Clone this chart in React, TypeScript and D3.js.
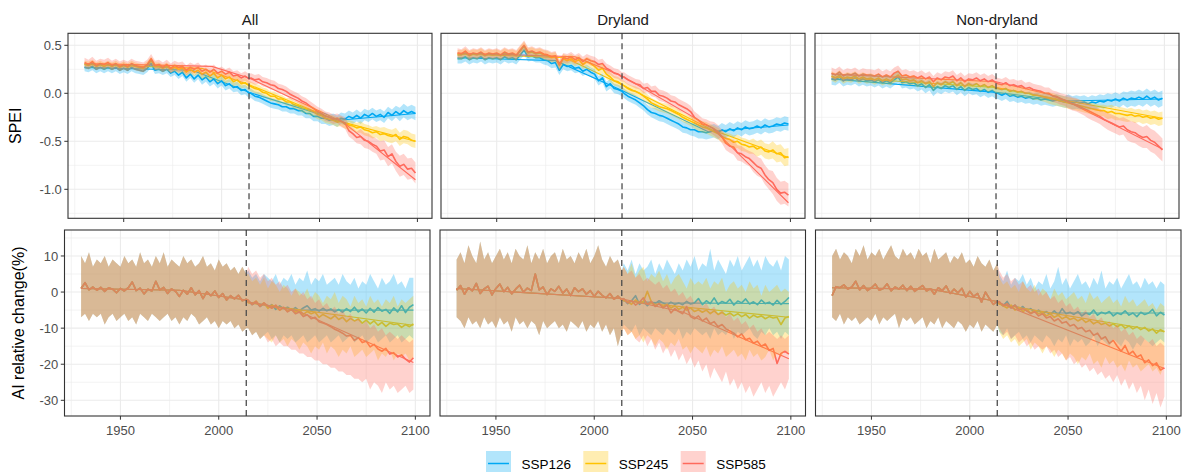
import React from 'react';
import * as d3 from 'd3';

// time axes: historical every 2 years, scenario runs every 2 years
const histYears = d3.range(1930, 2015, 2);
const futYears = d3.range(2015, 2100, 2);

const scenarios = ['SSP126', 'SSP245', 'SSP585'];
const colors = ['#00A8F3', '#FFC300', '#FF6A5C'];
const regions = ['All', 'Dryland', 'Non-dryland'];

const speiTicks = [0.5, 0, -0.5, -1];
const speiMinor = [0.25, -0.25, -0.75, -1.25];
const aiTicks = [10, 0, -10, -20, -30];
const aiMinor = [15, 5, -5, -15, -25];
const yearTicks = [1950, 2000, 2050, 2100];
const yearMinor = [1925, 1975, 2025, 2075];
const baseYear = 2014;

// ---------------- SPEI (top row) ----------------
// All
const speiHistAll126 = [
  .27, .26, .28, .25, .27, .25, .27, .25, .27, .24,
  .26, .24, .27, .25, .24, .23, .26, .31, .24, .25,
  .23, .25, .21, .23, .19, .22, .16, .20, .15, .19,
  .14, .17, .12, .15, .10, .13, .08, .10, .06, .07,
  .03, .04, .00];
const speiHistAll245 = [
  .30, .29, .31, .28, .30, .28, .30, .28, .30, .27,
  .29, .27, .30, .28, .27, .26, .29, .34, .28, .28,
  .26, .28, .25, .27, .25, .26, .22, .25, .22, .24,
  .20, .22, .18, .21, .16, .19, .15, .17, .12, .14,
  .10, .11, .08];
const speiHistAll585 = [
  .32, .30, .33, .29, .31, .30, .32, .29, .31, .28,
  .30, .28, .31, .29, .28, .27, .30, .36, .29, .30,
  .27, .30, .26, .29, .27, .28, .24, .27, .25, .27,
  .23, .25, .22, .25, .21, .23, .20, .22, .18, .19,
  .16, .18, .15];
const speiFutAll126 = [
  .00, -.03, -.04, -.06, -.08, -.10, -.11, -.12, -.14, -.14,
  -.16, -.16, -.18, -.18, -.21, -.21, -.24, -.24, -.26, -.26,
  -.28, -.27, -.29, -.26, -.27, -.24, -.26, -.23, -.26, -.22,
  -.24, -.21, -.24, -.22, -.25, -.20, -.23, -.19, -.22, -.18,
  -.21, -.19, -.21];
const speiFutAll245 = [
  .07, .05, .04, .01, .00, -.03, -.03, -.06, -.06, -.09,
  -.09, -.12, -.13, -.15, -.16, -.18, -.19, -.22, -.23, -.26,
  -.27, -.28, -.30, -.29, -.32, -.33, -.34, -.36, -.35, -.38,
  -.39, -.41, -.40, -.43, -.42, -.44, -.45, -.43, -.48, -.45,
  -.46, -.49, -.50];
const speiFutAll585 = [
  .16, .14, .15, .12, .11, .09, .08, .05, .04, .02,
  -.01, -.03, -.05, -.08, -.10, -.13, -.16, -.19, -.21, -.24,
  -.25, -.27, -.26, -.29, -.31, -.39, -.42, -.46, -.45, -.49,
  -.50, -.53, -.55, -.60, -.59, -.66, -.63, -.71, -.76, -.74,
  -.79, -.78, -.83];
// Dryland
const speiHistDry126 = [
  .36, .36, .38, .35, .37, .36, .38, .35, .37, .36,
  .37, .35, .38, .36, .37, .35, .40, .45, .38, .39,
  .37, .37, .35, .34, .31, .32, .24, .30, .28, .29,
  .26, .27, .23, .25, .22, .20, .13, .16, .07, .10,
  .05, .04, .02];
const speiHistDry245 = [
  .40, .40, .42, .39, .41, .40, .42, .39, .41, .40,
  .41, .39, .42, .40, .41, .39, .44, .49, .42, .43,
  .41, .42, .40, .39, .37, .38, .29, .36, .34, .36,
  .33, .35, .30, .33, .31, .28, .24, .26, .20, .17,
  .13, .12, .09];
const speiHistDry585 = [
  .42, .41, .44, .40, .42, .41, .43, .40, .42, .41,
  .42, .40, .43, .41, .42, .40, .45, .50, .43, .44,
  .42, .43, .41, .40, .38, .39, .30, .37, .36, .38,
  .35, .37, .33, .36, .34, .33, .30, .31, .26, .24,
  .21, .20, .17];
const speiFutDry126 = [
  .00, -.03, -.05, -.07, -.10, -.13, -.17, -.20, -.21, -.23,
  -.24, -.26, -.28, -.30, -.32, -.35, -.36, -.38, -.38, -.40,
  -.40, -.41, -.40, -.39, -.41, -.38, -.40, -.37, -.39, -.36,
  -.38, -.35, -.37, -.36, -.34, -.36, -.33, -.35, -.34, -.32,
  -.33, -.31, -.32];
const speiFutDry245 = [
  .08, .05, .03, .02, .00, -.03, -.06, -.10, -.12, -.14,
  -.15, -.16, -.18, -.20, -.22, -.25, -.27, -.29, -.31, -.33,
  -.35, -.36, -.38, -.40, -.42, -.45, -.47, -.48, -.51, -.50,
  -.53, -.54, -.56, -.55, -.58, -.56, -.60, -.61, -.59, -.63,
  -.62, -.67, -.66];
const speiFutDry585 = [
  .17, .14, .12, .10, .09, .05, .06, .02, .02, -.02,
  -.03, -.05, -.08, -.09, -.12, -.14, -.16, -.19, -.25, -.28,
  -.32, -.33, -.35, -.37, -.40, -.45, -.52, -.55, -.56, -.62,
  -.63, -.66, -.68, -.72, -.76, -.78, -.85, -.90, -.93, -1.00,
  -1.04, -1.03, -1.06];
// Non-dryland
const speiHistNon126 = [
  .15, .14, .17, .13, .15, .14, .16, .13, .15, .13,
  .14, .12, .14, .11, .13, .11, .14, .17, .11, .12,
  .10, .11, .08, .10, .06, .09, .03, .07, .05, .08,
  .06, .08, .04, .07, .03, .06, .04, .05, .02, .04,
  .01, .03, .00];
const speiHistNon245 = [
  .18, .16, .19, .15, .17, .16, .18, .15, .17, .15,
  .16, .14, .16, .13, .15, .13, .16, .19, .14, .15,
  .13, .14, .11, .13, .10, .12, .07, .11, .09, .12,
  .10, .12, .08, .11, .07, .10, .08, .10, .07, .09,
  .06, .08, .05];
const speiHistNon585 = [
  .21, .19, .22, .18, .20, .19, .21, .18, .20, .19,
  .19, .18, .20, .17, .19, .17, .21, .23, .18, .19,
  .17, .18, .16, .18, .15, .17, .12, .16, .14, .17,
  .16, .18, .13, .16, .12, .15, .14, .16, .13, .15,
  .12, .14, .11];
const speiFutNon126 = [
  .00, -.02, .00, -.03, -.02, -.04, -.03, -.05, -.04, -.06,
  -.05, -.07, -.06, -.07, -.08, -.07, -.08, -.09, -.08, -.10,
  -.09, -.10, -.09, -.11, -.09, -.10, -.08, -.09, -.07, -.08,
  -.06, -.08, -.05, -.07, -.05, -.06, -.04, -.06, -.03, -.06,
  -.04, -.07, -.05];
const speiFutNon245 = [
  .05, .04, .05, .02, .03, .01, .02, .00, .00, -.02,
  -.02, -.03, -.04, -.05, -.06, -.07, -.08, -.09, -.10, -.11,
  -.12, -.13, -.14, -.15, -.16, -.17, -.18, -.18, -.20, -.19,
  -.21, -.21, -.22, -.23, -.22, -.24, -.23, -.25, -.24, -.26,
  -.25, -.27, -.26];
const speiFutNon585 = [
  .10, .09, .11, .08, .09, .07, .08, .05, .06, .04,
  .03, .02, .00, .00, -.03, -.04, -.06, -.07, -.09, -.11,
  -.12, -.14, -.16, -.18, -.20, -.22, -.24, -.27, -.29, -.31,
  -.33, -.35, -.34, -.38, -.40, -.41, -.44, -.46, -.45, -.49,
  -.51, -.55, -.59];

// ensemble spread (half width) per decade, 1930s..2090s
const speiSpreadAll = [
  [.04, .04, .04, .04, .04, .04, .05, .05, .05, .05, .05, .05, .06, .06, .06, .06, .07],
  [.04, .04, .04, .04, .04, .04, .05, .05, .05, .05, .04, .05, .05, .05, .06, .07, .07],
  [.05, .05, .05, .05, .05, .05, .05, .05, .05, .05, .05, .05, .05, .06, .08, .10, .11]];
const speiSpreadDry = [
  [.05, .05, .05, .05, .05, .05, .05, .05, .05, .05, .06, .06, .07, .07, .07, .07, .07],
  [.05, .05, .05, .05, .05, .05, .05, .05, .05, .05, .05, .05, .06, .06, .07, .08, .09],
  [.05, .05, .05, .05, .05, .05, .05, .05, .05, .05, .06, .06, .06, .07, .08, .10, .12]];
const speiSpreadNon = [
  [.06, .06, .06, .06, .06, .06, .06, .06, .06, .06, .06, .06, .07, .07, .07, .08, .08],
  [.05, .05, .05, .05, .05, .05, .05, .05, .05, .05, .05, .06, .06, .06, .07, .07, .07],
  [.06, .06, .06, .06, .06, .06, .06, .06, .06, .06, .06, .06, .07, .08, .09, .11, .12]];

// fitted trends: [year, value] knots
const speiTrendAll = [
  [[1930, .27], [1985, .24], [2014, .01], [2060, -.28], [2099, -.21]],
  [[1930, .30], [1990, .26], [2014, .09], [2060, -.29], [2099, -.50]],
  [[1930, .31], [1995, .28], [2014, .16], [2062, -.30], [2099, -.90]]];
const speiTrendDry = [
  [[1930, .37], [1980, .34], [2014, .03], [2058, -.40], [2099, -.33]],
  [[1930, .41], [1985, .37], [2014, .09], [2060, -.38], [2099, -.67]],
  [[1930, .42], [1990, .38], [2014, .18], [2060, -.36], [2099, -1.14]]];
const speiTrendNon = [
  [[1930, .15], [2014, .01], [2050, -.08], [2099, -.06]],
  [[1930, .17], [2014, .06], [2099, -.26]],
  [[1930, .20], [2014, .12], [2045, -.03], [2099, -.58]]];

// ---------------- AI relative change, % (bottom row) ----------------
// All
const aiHistMeanAll = [
  1.0, 2.6, 0.6, 1.4, 0.5, 1.3, 0.2, 1.2, 0.8, -0.2,
  1.0, 0.3, 1.2, 2.8, 0.4, 1.1, -0.5, 0.8, 0.3, 3.0,
  0.6, 1.3, -0.4, 0.9, 0.2, -1.2, 0.5, -0.6, 1.2, -0.8,
  0.4, -1.8, 0.1, -1.0, 0.3, -1.5, -0.4, -2.2, -1.0, -1.9,
  -0.9, -2.4, -2.0];
const aiHistHiAll = [
  10, 8, 11, 7, 9, 8, 10, 7, 9, 8,
  7, 10, 8, 9, 7, 11, 8, 9, 7, 10,
  8, 11, 7, 9, 8, 7, 10, 8, 9, 7,
  8, 10, 7, 8, 6, 9, 7, 8, 6, 7,
  5, 7, 5];
const aiHistLoAll = [
  -7, -6, -8, -6, -7, -6, -9, -7, -6, -8,
  -7, -6, -8, -7, -9, -6, -7, -8, -6, -7,
  -8, -7, -6, -8, -7, -9, -7, -8, -6, -7,
  -9, -8, -7, -9, -8, -10, -8, -9, -8, -10,
  -9, -11, -10];
const aiFutAll126 = [
  -2.5, -3.5, -2.8, -4.0, -3.2, -4.2, -3.5, -4.8, -3.8, -4.6,
  -4.2, -5.0, -4.3, -5.2, -4.4, -3.8, -5.0, -4.6, -5.3, -4.5,
  -5.2, -4.7, -5.5, -4.8, -5.6, -4.6, -5.4, -4.2, -5.5, -4.7,
  -5.8, -4.5, -5.6, -4.3, -5.3, -4.8, -5.9, -4.4, -5.5, -3.8,
  -5.7, -4.2, -3.5];
const aiFutHiAll126 = [
  6, 4, 5, 3, 5, 4, 3, 5, 2, 4,
  3, 5, 2, 4, 3, 6, 2, 4, 3, 5,
  2, 3, 4, 2, 5, 3, 2, 4, 1, 3,
  2, 5, 3, 1, 4, 2, 3, 5, 2, 3,
  1, 4, 4];
const aiFutLoAll126 = [
  -10, -12, -11, -13, -12, -11, -13, -12, -14, -12,
  -13, -12, -14, -13, -12, -14, -13, -12, -14, -13,
  -12, -14, -13, -12, -14, -13, -12, -14, -13, -12,
  -14, -13, -12, -14, -13, -12, -14, -13, -12, -14,
  -13, -12, -13];
const aiFutAll245 = [
  -2.8, -3.2, -2.5, -3.8, -3.0, -4.5, -3.6, -4.2, -5.0, -4.4,
  -5.3, -4.8, -5.6, -4.9, -6.2, -5.4, -6.0, -5.6, -7.0, -6.2,
  -6.8, -7.4, -6.5, -7.6, -7.0, -8.2, -7.3, -8.0, -7.5, -8.6,
  -7.8, -8.8, -8.0, -9.2, -8.4, -9.5, -8.6, -9.0, -8.8, -9.8,
  -9.0, -9.6, -8.8];
const aiFutHiAll245 = [
  5, 3, 4, 2, 4, 1, 3, 2, 0, 2,
  1, -1, 1, 0, -1, 1, -2, 0, -1, -3,
  -1, -2, 0, -3, -1, -2, -4, -1, -3, -2,
  -4, -1, -3, -2, -4, -2, -3, -1, -4, -2,
  -3, -2, -1];
const aiFutLoAll245 = [
  -10, -12, -11, -13, -12, -13, -14, -12, -14, -13,
  -15, -13, -14, -16, -14, -15, -17, -15, -16, -14,
  -17, -15, -16, -18, -16, -17, -15, -18, -17, -16,
  -18, -17, -16, -19, -17, -18, -16, -19, -17, -18,
  -17, -19, -18];
const aiFutAll585 = [
  -2.2, -3.5, -2.6, -4.0, -3.0, -3.8, -4.5, -3.6, -5.0, -4.2,
  -5.5, -4.8, -6.0, -5.5, -6.8, -6.3, -7.4, -7.0, -8.2, -8.6,
  -9.0, -9.6, -10.3, -10.8, -11.4, -12.2, -12.0, -13.4, -12.6, -14.0,
  -13.6, -15.2, -14.5, -15.8, -16.4, -15.6, -17.2, -16.8, -18.0, -17.4,
  -18.6, -19.4, -18.2];
const aiFutHiAll585 = [
  7, 5, 6, 4, 5, 3, 4, 2, 3, 1,
  2, 0, 1, -1, 0, -2, -1, -3, -2, -4,
  -3, -5, -4, -6, -5, -7, -6, -8, -7, -9,
  -8, -10, -9, -11, -10, -12, -11, -12, -13, -12,
  -13, -14, -13];
const aiFutLoAll585 = [
  -10, -12, -11, -13, -12, -14, -13, -15, -14, -15,
  -15, -16, -16, -17, -17, -18, -18, -19, -19, -20,
  -20, -21, -21, -22, -22, -23, -23, -24, -24, -25,
  -24, -27, -25, -26, -28, -25, -27, -26, -28, -27,
  -26, -28, -27];
// Dryland
const aiHistMeanDry = [
  0.5, 1.8, -0.6, 1.2, 0.3, 2.4, -0.4, 0.9, 1.6, -0.8,
  1.0, 2.2, 0.1, 1.3, -0.5, 0.8, 1.9, 0.0, 1.1, 0.4,
  5.0, 0.6, 1.4, -0.7, 0.9, 0.2, 1.6, -0.3, 0.8, -1.0,
  1.2, 0.1, 0.9, -0.6, 0.4, -1.2, 0.2, -0.9, -1.6, -0.4,
  -2.0, -1.1, -2.2];
const aiHistHiDry = [
  9, 11, 8, 13, 10, 8, 14, 9, 11, 8,
  10, 12, 9, 11, 8, 12, 10, 9, 13, 8,
  11, 9, 12, 8, 10, 11, 8, 12, 9, 10,
  8, 11, 9, 12, 8, 10, 13, 9, 7, 10,
  8, 9, 6];
const aiHistLoDry = [
  -7, -8, -10, -7, -9, -8, -10, -7, -9, -8,
  -10, -7, -9, -8, -11, -7, -9, -8, -10, -8,
  -9, -12, -8, -10, -9, -8, -10, -9, -11, -8,
  -9, -10, -8, -11, -9, -10, -8, -11, -9, -12,
  -10, -15, -11];
const aiFutDry126 = [
  -2.0, -3.2, -2.4, -1.0, -3.4, -2.6, -3.8, -2.8, -3.2, -2.4,
  -3.0, -3.6, -2.8, -3.4, -3.0, -3.5, -2.6, -3.3, -3.0, -1.8,
  -3.5, -2.4, -3.2, -1.6, -3.4, -2.6, -3.1, -2.0, -3.6, -2.5,
  -3.0, -1.9, -3.3, -2.7, -3.5, -2.2, -3.2, -2.8, -3.6, -2.3,
  -3.4, -2.6, -1.5];
const aiFutHiDry126 = [
  8, 6, 9, 5, 8, 6, 7, 9, 5, 8,
  6, 9, 7, 5, 8, 6, 9, 7, 10, 6,
  8, 7, 12, 6, 9, 7, 5, 9, 7, 10,
  6, 8, 10, 7, 9, 6, 10, 8, 7, 9,
  6, 10, 9];
const aiFutLoDry126 = [
  -9, -10, -11, -9, -12, -10, -11, -12, -10, -11,
  -12, -10, -11, -12, -10, -13, -11, -12, -10, -11,
  -12, -11, -13, -10, -12, -11, -12, -10, -13, -11,
  -12, -11, -10, -12, -13, -11, -12, -10, -12, -11,
  -13, -11, -12];
const aiFutDry245 = [
  -2.0, -2.8, -3.4, -2.2, -3.0, -2.6, 0.2, -2.6, -3.8, -3.2,
  -4.0, -3.4, -4.4, -3.8, -4.8, -4.2, -5.0, -4.4, -5.4, -4.9,
  -5.6, -5.0, -6.0, -5.2, -6.2, -5.6, -6.4, -5.8, -6.6, -6.0,
  -6.8, -6.2, -7.2, -6.4, -7.0, -6.6, -7.4, -6.8, -7.2, -7.0,
  -9.0, -7.2, -6.8];
const aiFutHiDry245 = [
  7, 5, 8, 4, 6, 7, 3, 5, 4, 6,
  3, 5, 2, 4, 5, 3, 1, 4, 2, 3,
  2, 4, 1, 3, 2, 4, 0, 2, 3, 1,
  2, 0, 3, 1, 2, -1, 2, 0, 1, 2,
  0, 1, 0];
const aiFutLoDry245 = [
  -10, -12, -11, -13, -12, -14, -12, -13, -15, -13,
  -14, -16, -14, -15, -13, -16, -15, -17, -15, -16,
  -17, -15, -18, -16, -17, -15, -18, -17, -16, -18,
  -17, -19, -16, -18, -17, -19, -18, -16, -19, -17,
  -18, -16, -17];
const aiFutDry585 = [
  -1.8, -3.0, -2.4, -3.6, -2.8, -1.6, -3.4, -2.6, -4.0, -3.2,
  -4.4, -3.6, -5.8, -4.6, -5.4, -6.0, -4.0, -6.8, -7.4, -6.6,
  -8.0, -7.2, -8.8, -8.2, -9.6, -9.0, -10.2, -10.8, -11.4, -12.4,
  -11.6, -13.2, -12.8, -14.2, -13.6, -15.0, -14.4, -16.2, -15.6, -19.8,
  -17.0, -16.4, -17.2];
const aiFutHiDry585 = [
  7, 5, 6, 4, 5, 3, 4, 3, 2, 3,
  1, 2, 0, 1, -1, 0, -2, -1, -3, -2,
  -4, -3, -5, -4, -6, -5, -7, -6, -8, -7,
  -9, -8, -10, -9, -11, -10, -12, -11, -12, -13,
  -12, -13, -12];
const aiFutLoDry585 = [
  -10, -12, -11, -13, -14, -12, -15, -13, -16, -14,
  -17, -15, -18, -16, -19, -17, -20, -18, -21, -19,
  -22, -20, -24, -21, -23, -25, -22, -26, -24, -27,
  -25, -28, -26, -29, -27, -25, -28, -26, -29, -27,
  -25, -27, -24];
// Non-dryland
const aiHistMeanNon = [
  -1.0, 1.5, 1.2, 2.0, 0.8, 1.4, 3.0, 0.6, 1.8, 0.4,
  1.2, 2.2, 0.5, 1.0, 2.3, 0.3, 1.4, 0.8, 1.9, 0.4,
  1.6, 0.2, 1.0, 1.8, 0.3, 0.9, -0.6, 1.2, 0.4, 1.7,
  -0.4, 0.8, -0.2, 1.0, -1.4, 0.2, -1.2, -0.4, -2.8, 0.0,
  -1.8, -3.4, -2.6];
const aiHistHiNon = [
  10, 12, 9, 11, 10, 8, 12, 10, 13, 9,
  11, 10, 12, 9, 11, 13, 10, 9, 12, 10,
  11, 9, 12, 10, 11, 8, 12, 9, 10, 11,
  8, 10, 9, 11, 8, 9, 7, 10, 8, 7,
  9, 6, 8];
const aiHistLoNon = [
  -7, -8, -6, -9, -7, -8, -7, -9, -8, -7,
  -8, -6, -9, -7, -8, -7, -6, -10, -7, -8,
  -7, -9, -8, -7, -10, -8, -9, -7, -10, -8,
  -9, -10, -8, -9, -11, -9, -10, -8, -11, -9,
  -10, -11, -9];
const aiFutNon126 = [
  -3.0, -3.8, -2.6, -4.4, -3.6, -4.8, -4.0, -5.2, -4.6, -5.6,
  -5.0, -6.0, -5.4, -6.2, -5.2, -6.4, -4.6, -6.0, -5.6, -6.2,
  -5.4, -6.6, -5.8, -6.2, -5.0, -6.4, -5.6, -6.0, -5.4, -6.6,
  -5.8, -6.2, -5.2, -6.4, -5.8, -6.8, -5.6, -6.2, -5.8, -4.8,
  -6.6, -5.6, -6.4];
const aiFutHiNon126 = [
  5, 3, 6, 2, 4, 3, 5, 2, 4, 1,
  3, 2, 5, 1, 3, 7, 2, 4, 1, 3,
  5, 2, 3, 1, 4, 2, 6, 1, 3, 2,
  4, 1, 3, 5, 2, 3, 1, 4, 2, 3,
  1, 3, 2];
const aiFutLoNon126 = [
  -11, -12, -10, -13, -12, -11, -13, -12, -14, -12,
  -13, -14, -12, -13, -15, -13, -14, -12, -15, -13,
  -14, -13, -15, -14, -12, -15, -13, -14, -15, -13,
  -14, -15, -13, -14, -16, -14, -15, -13, -14, -15,
  -14, -13, -14];
const aiFutNon245 = [
  -3.2, -3.8, -4.4, -3.6, -5.0, -4.2, -5.4, -4.8, -5.8, -5.2,
  -6.0, -5.6, -6.6, -6.0, -7.0, -6.4, -7.4, -6.8, -7.6, -7.2,
  -8.0, -7.4, -8.4, -7.8, -8.8, -8.2, -9.0, -8.6, -9.4, -8.8,
  -9.6, -9.0, -10.0, -9.4, -10.2, -9.6, -10.4, -9.8, -10.8, -10.2,
  -11.4, -10.4, -11.0];
const aiFutHiNon245 = [
  4, 2, 3, 1, 2, 0, 3, 1, 0, 2,
  -1, 1, 0, -2, 1, -1, 0, -2, -1, 0,
  -2, -1, -3, 0, -2, -1, -3, -2, -1, -3,
  -2, -4, -1, -3, -2, -4, -3, -2, -4, -3,
  -5, -3, -4];
const aiFutLoNon245 = [
  -11, -13, -12, -14, -13, -15, -14, -13, -16, -14,
  -15, -17, -15, -16, -18, -16, -17, -19, -17, -18,
  -20, -18, -19, -17, -20, -19, -21, -18, -20, -19,
  -21, -20, -22, -19, -21, -20, -22, -21, -20, -22,
  -21, -23, -20];
const aiFutNon585 = [
  -2.6, -3.8, -3.2, -4.4, -3.6, -5.0, -4.6, -5.2, -6.0, -5.4,
  -6.6, -6.0, -7.2, -6.8, -8.0, -7.4, -8.6, -8.2, -9.4, -9.0,
  -10.2, -9.8, -11.0, -10.6, -12.0, -11.4, -13.0, -12.4, -14.2, -13.4,
  -15.0, -16.4, -14.8, -17.2, -16.4, -18.0, -17.4, -19.6, -18.8, -20.4,
  -19.6, -21.6, -21.0];
const aiFutHiNon585 = [
  6, 4, 5, 3, 4, 2, 3, 1, 2, 0,
  1, -1, 0, -2, -1, -3, -2, -4, -3, -5,
  -4, -6, -5, -7, -6, -8, -7, -9, -8, -10,
  -9, -11, -10, -12, -11, -13, -12, -13, -14, -13,
  -15, -14, -15];
const aiFutLoNon585 = [
  -10, -12, -11, -13, -12, -14, -13, -15, -14, -16,
  -15, -16, -15, -17, -16, -18, -17, -19, -18, -20,
  -19, -21, -20, -22, -21, -23, -22, -24, -23, -25,
  -23, -26, -24, -27, -25, -28, -26, -30, -27, -31,
  -28, -32, -29];

const aiTrendAll = [
  [[1930, 1.0], [1980, 0.5], [2014, -2.2], [2015, -2.8], [2040, -5.0], [2099, -5.0]],
  [[1930, 1.0], [1980, 0.5], [2014, -2.2], [2015, -3.0], [2099, -9.2]],
  [[1930, 1.0], [1980, 0.5], [2014, -2.2], [2015, -2.8], [2040, -5.2], [2099, -19.5]]];
const aiTrendDry = [
  [[1930, 1.0], [2014, -1.8], [2015, -2.5], [2035, -3.0], [2099, -3.2]],
  [[1930, 1.0], [2014, -1.8], [2015, -2.5], [2099, -7.0]],
  [[1930, 1.0], [2014, -1.8], [2015, -2.0], [2045, -5.5], [2099, -18.5]]];
const aiTrendNon = [
  [[1930, 1.2], [1980, 0.8], [2014, -2.6], [2015, -3.2], [2040, -5.8], [2099, -5.8]],
  [[1930, 1.2], [1980, 0.8], [2014, -2.6], [2015, -3.4], [2099, -11.0]],
  [[1930, 1.2], [1980, 0.8], [2014, -2.6], [2015, -3.0], [2099, -21.2]]];

// ---------------- assembling ----------------
type Pt = { year: number; v: number; lo: number; hi: number };

function speiSeries(hist: number[], fut: number[], spread: number[]): Pt[] {
  const sp = (yr: number) => spread[Math.min(spread.length - 1, Math.floor((yr - 1930) / 10))];
  const a = hist.map((v, i) => ({ year: histYears[i], v, lo: v - sp(histYears[i]), hi: v + sp(histYears[i]) }));
  const b = fut.map((v, i) => ({ year: futYears[i], v, lo: v - sp(futYears[i]), hi: v + sp(futYears[i]) }));
  return [...a, ...b];
}

function aiSeries(hm: number[], hl: number[], hh: number[], fm: number[], fl: number[], fh: number[]): Pt[] {
  const a = hm.map((v, i) => ({ year: histYears[i], v, lo: hl[i], hi: hh[i] }));
  const b = fm.map((v, i) => ({ year: futYears[i], v, lo: fl[i], hi: fh[i] }));
  return [...a, ...b];
}

const speiPanels = [
  {
    series: [
      speiSeries(speiHistAll126, speiFutAll126, speiSpreadAll[0]),
      speiSeries(speiHistAll245, speiFutAll245, speiSpreadAll[1]),
      speiSeries(speiHistAll585, speiFutAll585, speiSpreadAll[2])],
    trends: speiTrendAll,
  },
  {
    series: [
      speiSeries(speiHistDry126, speiFutDry126, speiSpreadDry[0]),
      speiSeries(speiHistDry245, speiFutDry245, speiSpreadDry[1]),
      speiSeries(speiHistDry585, speiFutDry585, speiSpreadDry[2])],
    trends: speiTrendDry,
  },
  {
    series: [
      speiSeries(speiHistNon126, speiFutNon126, speiSpreadNon[0]),
      speiSeries(speiHistNon245, speiFutNon245, speiSpreadNon[1]),
      speiSeries(speiHistNon585, speiFutNon585, speiSpreadNon[2])],
    trends: speiTrendNon,
  },
];

const aiPanels = [
  {
    series: [
      aiSeries(aiHistMeanAll, aiHistLoAll, aiHistHiAll, aiFutAll126, aiFutLoAll126, aiFutHiAll126),
      aiSeries(aiHistMeanAll, aiHistLoAll, aiHistHiAll, aiFutAll245, aiFutLoAll245, aiFutHiAll245),
      aiSeries(aiHistMeanAll, aiHistLoAll, aiHistHiAll, aiFutAll585, aiFutLoAll585, aiFutHiAll585)],
    trends: aiTrendAll,
  },
  {
    series: [
      aiSeries(aiHistMeanDry, aiHistLoDry, aiHistHiDry, aiFutDry126, aiFutLoDry126, aiFutHiDry126),
      aiSeries(aiHistMeanDry, aiHistLoDry, aiHistHiDry, aiFutDry245, aiFutLoDry245, aiFutHiDry245),
      aiSeries(aiHistMeanDry, aiHistLoDry, aiHistHiDry, aiFutDry585, aiFutLoDry585, aiFutHiDry585)],
    trends: aiTrendDry,
  },
  {
    series: [
      aiSeries(aiHistMeanNon, aiHistLoNon, aiHistHiNon, aiFutNon126, aiFutLoNon126, aiFutHiNon126),
      aiSeries(aiHistMeanNon, aiHistLoNon, aiHistHiNon, aiFutNon245, aiFutLoNon245, aiFutHiNon245),
      aiSeries(aiHistMeanNon, aiHistLoNon, aiHistHiNon, aiFutNon585, aiFutLoNon585, aiFutHiNon585)],
    trends: aiTrendNon,
  },
];

// ---------------- drawing ----------------
const FONT = '"Liberation Sans", Arial, Helvetica, sans-serif';
const xDomain: [number, number] = [1921.55, 2107.45];
const bandAlpha = 0.3;
const tickLen = 3.7;

function Panel(props: any) {
  const { id, left, top, w, h, yDomain, yTicks, yMinor, panel, yAxis, xLabels, fmt } = props;
  const x = d3.scaleLinear().domain(xDomain).range([left, left + w]);
  const y = d3.scaleLinear().domain(yDomain).range([top + h, top]);
  const line = d3.line<Pt>().x(d => x(d.year)).y(d => y(d.v));
  const area = d3.area<Pt>().x(d => x(d.year)).y0(d => y(d.lo)).y1(d => y(d.hi));
  const tline = d3.line<number[]>().x(d => x(d[0])).y(d => y(d[1]));
  const clip = `clip-${id}`;

  return (
    <g>
      <defs>
        <clipPath id={clip}>
          <rect x={left} y={top} width={w} height={h} />
        </clipPath>
      </defs>
      <rect x={left} y={top} width={w} height={h} fill="#fff" />
      {yMinor.map((t: number) => (
        <line key={'ym' + t} x1={left} x2={left + w} y1={y(t)} y2={y(t)} stroke="#EBEBEB" strokeWidth={0.6} />
      ))}
      {yearMinor.map(t => (
        <line key={'xm' + t} x1={x(t)} x2={x(t)} y1={top} y2={top + h} stroke="#EBEBEB" strokeWidth={0.6} />
      ))}
      {yTicks.map((t: number) => (
        <line key={'yg' + t} x1={left} x2={left + w} y1={y(t)} y2={y(t)} stroke="#EBEBEB" strokeWidth={1.1} />
      ))}
      {yearTicks.map(t => (
        <line key={'xg' + t} x1={x(t)} x2={x(t)} y1={top} y2={top + h} stroke="#EBEBEB" strokeWidth={1.1} />
      ))}
      <g clipPath={`url(#${clip})`}>
        {panel.series.map((s: Pt[], i: number) => (
          <g key={'l' + i}>
            <path d={line(s) || ''} fill="none" stroke={colors[i]} strokeWidth={1.6} strokeLinejoin="round" />
            <path d={tline(panel.trends[i]) || ''} fill="none" stroke={colors[i]} strokeWidth={1.1} />
          </g>
        ))}
        {panel.series.map((s: Pt[], i: number) => (
          <path key={'b' + i} d={area(s) || ''} fill={colors[i]} fillOpacity={bandAlpha} stroke="none" />
        ))}
      </g>
      <line x1={x(baseYear)} x2={x(baseYear)} y1={top} y2={top + h} stroke="#4D4D4D" strokeWidth={1.3} strokeDasharray="6,4" />
      <rect x={left} y={top} width={w} height={h} fill="none" stroke="#333333" strokeWidth={1.1} />
      {yearTicks.map(t => (
        <line key={'xt' + t} x1={x(t)} x2={x(t)} y1={top + h} y2={top + h + tickLen} stroke="#333333" strokeWidth={1} />
      ))}
      {xLabels && yearTicks.map(t => (
        <text key={'xl' + t} x={x(t)} y={top + h + 19} textAnchor="middle" fontSize={13} fill="#4D4D4D" fontFamily={FONT}>{t}</text>
      ))}
      {yAxis && yTicks.map((t: number) => (
        <g key={'yt' + t}>
          <line x1={left - tickLen} x2={left} y1={y(t)} y2={y(t)} stroke="#333333" strokeWidth={1} />
          <text x={left - tickLen - 2.5} y={y(t)} dy="0.36em" textAnchor="end" fontSize={13} fill="#4D4D4D" fontFamily={FONT}>{fmt(t)}</text>
        </g>
      ))}
    </g>
  );
}

export default function App() {
  const top = { y: 33.3, h: 185, w: 364, lefts: [68, 441, 815] };
  const bot = { y: 230, h: 186, w: 365.5, lefts: [64.5, 440, 815.5] };
  const legendX = [486, 583.3, 680.7];

  return (
    <svg width={1182} height={472} style={{ position: 'absolute', left: 0, top: 0, background: '#fff' }}>
      <rect width={1182} height={472} fill="#fff" />
      {regions.map((r, i) => (
        <text key={'st' + r} x={top.lefts[i] + top.w / 2} y={25} textAnchor="middle" fontSize={15} fill="#1A1A1A" fontFamily={FONT}>{r}</text>
      ))}
      {speiPanels.map((p, i) => (
        <Panel key={'sp' + i} id={'sp' + i} left={top.lefts[i]} top={top.y} w={top.w} h={top.h}
          yDomain={[-1.302, 0.625]} yTicks={speiTicks} yMinor={speiMinor} panel={p}
          yAxis={i === 0} xLabels={false} fmt={(v: number) => v.toFixed(1)} />
      ))}
      {aiPanels.map((p, i) => (
        <Panel key={'ai' + i} id={'ai' + i} left={bot.lefts[i]} top={bot.y} w={bot.w} h={bot.h}
          yDomain={[-34.35, 17.2]} yTicks={aiTicks} yMinor={aiMinor} panel={p}
          yAxis={i === 0} xLabels={true} fmt={(v: number) => String(v)} />
      ))}
      <text transform={`translate(21,${top.y + top.h / 2}) rotate(-90)`} textAnchor="middle" fontSize={16} fill="#000" fontFamily={FONT}>SPEI</text>
      <text transform={`translate(24,${bot.y + bot.h / 2}) rotate(-90)`} textAnchor="middle" fontSize={16} fill="#000" fontFamily={FONT}>AI relative change(%)</text>
      {scenarios.map((s, i) => (
        <g key={'lg' + s}>
          <rect x={legendX[i]} y={451} width={25} height={24} fill={colors[i]} fillOpacity={bandAlpha} />
          <line x1={legendX[i] + 2} x2={legendX[i] + 23} y1={463.5} y2={463.5} stroke={colors[i]} strokeWidth={1.5} />
          <text x={legendX[i] + 35.5} y={468.5} fontSize={13.5} fill="#000" fontFamily={FONT}>{s}</text>
        </g>
      ))}
    </svg>
  );
}
